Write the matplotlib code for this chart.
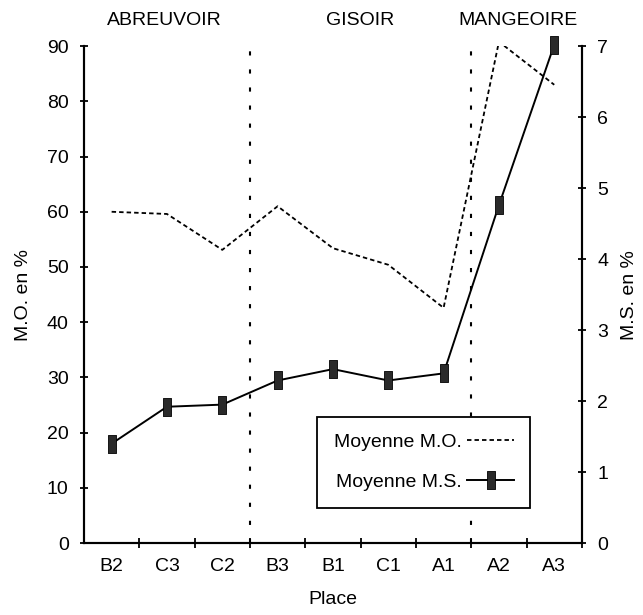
import matplotlib
matplotlib.use('Agg')
from matplotlib import pyplot as plt

plt.rcParams['font.family'] = ['Liberation Sans', 'DejaVu Sans']
plt.rcParams['font.size'] = 14
plt.rcParams['lines.scale_dashes'] = False

places = ['B2', 'C3', 'C2', 'B3', 'B1', 'C1', 'A1', 'A2', 'A3']
mo = [60, 59.6, 53.1, 61, 53.4, 50.4, 42.6, 90.8, 83]          # Moyenne M.O. (%)
ms = [1.40, 1.92, 1.95, 2.29, 2.45, 2.29, 2.39, 4.76, 7.02]    # Moyenne M.S. (%)
zones = ['ABREUVOIR', 'GISOIR', 'MANGEOIRE']
zone_limits = [2.5, 6.5]

x = list(range(len(places)))

fig = plt.figure(figsize=(6.43, 6.15), dpi=100)
ax = fig.add_axes([0.1306, 0.117, 0.7744, 0.808])
ax2 = ax.twinx()

# marqueur rectangulaire vertical
bar_marker = [(-1, -2.6), (1, -2.6), (1, 2.6), (-1, 2.6), (-1, -2.6)]

l_mo, = ax.plot(x, mo, color='black', lw=1.3, dashes=(3.2, 2.2))
l_ms, = ax2.plot(x, ms, color='black', lw=1.4, marker=bar_marker,
                 markersize=13.5, markerfacecolor='#2a2a2a',
                 markeredgecolor='black', markeredgewidth=0.6, clip_on=False)

for xl in zone_limits:
    ax.axvline(xl, color='black', lw=1.5, dashes=(3, 10))

ax.set_xlim(-0.5, len(places) - 0.5)
ax.set_ylim(0, 90)
ax2.set_ylim(0, 7)

ax.set_yticks(range(0, 91, 10))
ax2.set_yticks(range(0, 8))
ax.set_xticks(x)
ax.set_xticklabels(places)
ax.set_xticks([i + 0.5 for i in x], minor=True)

ax.tick_params(axis='x', which='major', length=0, pad=11)
ax.tick_params(axis='x', which='minor', direction='inout', length=7, width=1.3)
ax.tick_params(axis='y', direction='inout', length=6, width=1.3, pad=8)
ax2.tick_params(axis='y', direction='inout', length=6, width=1.3, pad=8)

for a in (ax, ax2):
    a.spines['top'].set_visible(False)
    for s in ('left', 'right', 'bottom'):
        a.spines[s].set_linewidth(1.5)

ax.set_xlabel('Place', labelpad=11)
ax.set_ylabel('M.O. en %', labelpad=11)
ax2.set_ylabel('M.S. en %', labelpad=9)

# noms des zones au-dessus du graphique
zone_centers = [0.96, 4.49, 7.35]
for name, xc in zip(zones, zone_centers):
    ax.text(xc, 1.035, name, transform=ax.get_xaxis_transform(),
            ha='center', va='bottom')

# légende : texte à gauche, trait à droite
leg = ax2.legend([l_mo, l_ms], ['Moyenne M.O.', 'Moyenne M.S.'],
                 loc='upper left', bbox_to_anchor=(317 / 643, 1 - 417 / 615),
                 bbox_transform=fig.transFigure, markerfirst=False,
                 fancybox=False, framealpha=1, edgecolor='black',
                 handlelength=2.4, handletextpad=0.3,
                 labelspacing=1.15, borderpad=0.85, borderaxespad=0)
leg.get_frame().set_linewidth(1.3)

fig.savefig('out.png', dpi=100)
